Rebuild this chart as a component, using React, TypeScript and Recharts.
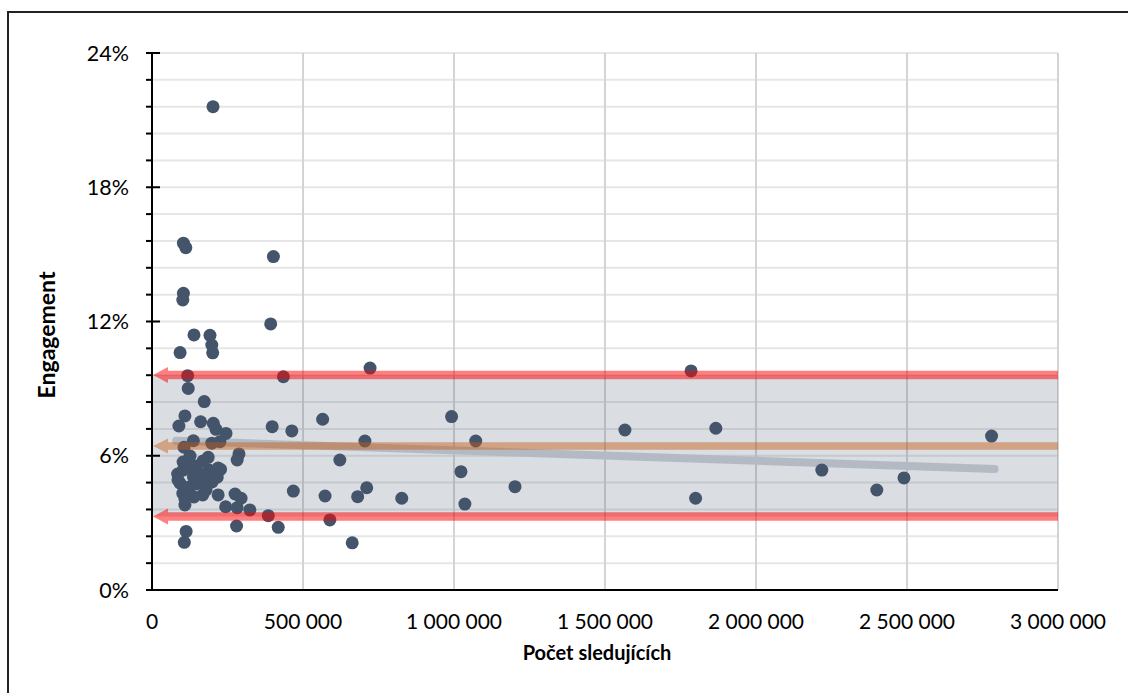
import React from 'react';
import { ScatterChart, Scatter, XAxis, YAxis, CartesianGrid, ReferenceArea, ReferenceLine } from 'recharts';

// followers per profile
const followers = [
    202000, 104000, 112000, 402000, 104000, 102000, 393000, 139000, 192000, 198000,
    201000, 93000, 118000, 435000, 722000, 1785000, 120000, 173000, 109000, 89000,
    161000, 203000, 212000, 245000, 137000, 198000, 225000, 106000, 126000, 186000,
    288000, 282000, 227000, 85000, 137000, 181000, 216000, 93000, 126000, 168000,
    102000, 219000, 109000, 275000, 295000, 244000, 282000, 324000, 385000, 418000,
    280000, 113000, 107000, 468000, 398000, 463000, 565000, 705000, 992000, 1072000,
    622000, 1023000, 711000, 573000, 681000, 827000, 1036000, 589000, 663000, 1566000,
    1867000, 1202000, 1800000, 2780000, 2490000, 2218000, 2400000, 103000, 116000, 146000,
    169000, 152000, 189000, 199000, 146000, 113000, 179000, 139000, 109000, 86000,
    159000, 103000, 219000,
];

// engagement in %
const engagement = [
    21.6, 15.5, 15.3, 14.9, 13.26, 12.96, 11.89, 11.4, 11.38, 10.95,
    10.6, 10.61, 9.58, 9.53, 9.92, 9.79, 9.01, 8.42, 7.78, 7.33,
    7.52, 7.45, 7.18, 7.0, 6.67, 6.56, 6.63, 6.38, 5.99, 5.93,
    6.08, 5.81, 5.39, 5.18, 5.06, 4.99, 5.04, 4.77, 4.62, 4.25,
    4.32, 4.25, 3.8, 4.29, 4.1, 3.72, 3.68, 3.58, 3.32, 2.8,
    2.86, 2.62, 2.13, 4.42, 7.3, 7.11, 7.63, 6.66, 7.75, 6.66,
    5.81, 5.29, 4.57, 4.2, 4.17, 4.1, 3.84, 3.13, 2.11, 7.15,
    7.23, 4.62, 4.1, 6.88, 5.01, 5.36, 4.47, 5.36, 5.54, 5.54,
    5.77, 5.27, 5.36, 4.83, 4.74, 4.56, 4.47, 4.16, 4.07, 4.92,
    4.92, 5.72, 5.45,
];

const xTicks = [0, 500000, 1000000, 1500000, 2000000, 2500000, 3000000];
const yTicks = [0, 1.2, 2.4, 3.6, 4.8, 6, 7.2, 8.4, 9.6, 10.8, 12, 13.2, 14.4, 15.6, 16.8, 18, 19.2, 20.4, 21.6, 22.8, 24];
const yLabels = [0, 6, 12, 18, 24];

// band (range of typical values) and average
const bandLow = 3.28;
const bandHigh = 9.61;
const average = 6.44;

// linear trend
const trendX = [80000, 2790000];
const trendY = [6.67, 5.41];

const points = followers.map((f, i) => ({ x: f, y: engagement[i] }));

const FONT = 'Lato, "Open Sans", sans-serif';

const fmtNum = (v: number) => String(v).replace(/\B(?=(\d{3})+(?!\d))/g, ' ');

const XTick = ({ x, y, payload }: any) => (
    <text x={x} y={y + 39} textAnchor="middle" fontSize={21} fontFamily={FONT} fill="#000">
        {fmtNum(payload.value)}
    </text>
);

const YTick = ({ x, y, payload }: any) => {
    const v = payload.value;
    const major = yLabels.some(m => Math.abs(m - v) < 1e-6);
    return (
        <g>
            <line x1={x - 6} x2={major ? x + 8 : x} y1={y} y2={y} stroke="#000" strokeWidth={2} />
            {major && (
                <text x={x - 23} y={y + 7.5} textAnchor="end" fontSize={21.5} fontFamily={FONT} fill="#000">
                    {Math.round(v)}%
                </text>
            )}
        </g>
    );
};

// horizontal line with an arrow head pointing left
const arrowShape = (color: string, opacity: number, thick: number, head: number) => (props: any) => {
    const { x1, x2, y1 } = props;
    const tip = Math.min(x1, x2) + 1;
    const end = Math.max(x1, x2);
    const back = tip + 15;
    const t = thick / 2;
    const d = `M${tip},${y1} L${back},${y1 - head} L${back},${y1 - t} L${end},${y1 - t} L${end},${y1 + t} L${back},${y1 + t} L${back},${y1 + head} Z`;
    return <path d={d} fill={color} fillOpacity={opacity} />;
};

const Dot = (props: any) => <circle cx={props.cx} cy={props.cy} r={6.5} fill="#44546a" />;

export default function App() {
    return (
        <div style={{ position: 'absolute', left: 0, top: 0, width: 1128, height: 693, overflow: 'hidden', background: '#fff' }}>
            <div style={{ position: 'absolute', left: 7, top: 11, width: 1200, height: 800, borderTop: '2px solid #222', borderLeft: '2px solid #222' }} />
            <div style={{ position: 'absolute', left: 0, top: 0 }}>
                <ScatterChart width={1128} height={693} margin={{ top: 53, right: 70, left: 92, bottom: 63 }}>
                    <CartesianGrid horizontal={true} vertical={false} stroke="#e6e6e6" strokeWidth={2} />
                    <CartesianGrid horizontal={false} vertical={true} stroke="#d4d4d4" strokeWidth={2} />
                    <ReferenceArea x1={0} x2={3000000} y1={bandLow} y2={bandHigh} fill="#44546a" fillOpacity={0.2} stroke="none" zIndex={150} />
                    <ReferenceLine
                        segment={[{ x: trendX[0], y: trendY[0] }, { x: trendX[1], y: trendY[1] }]}
                        stroke="#b4bac4"
                        strokeWidth={8}
                        strokeLinecap="round"
                        zIndex={550}
                    />
                    <XAxis
                        type="number"
                        dataKey="x"
                        domain={[0, 3000000]}
                        ticks={xTicks}
                        interval={0}
                        height={40}
                        tickSize={0}
                        tickMargin={0}
                        tick={<XTick />}
                        axisLine={{ stroke: '#000', strokeWidth: 2 }}
                        tickLine={false}
                    />
                    <YAxis
                        type="number"
                        dataKey="y"
                        domain={[0, 24]}
                        ticks={yTicks}
                        interval={0}
                        width={60}
                        tickSize={0}
                        tickMargin={0}
                        tick={<YTick />}
                        axisLine={{ stroke: '#000', strokeWidth: 2 }}
                        tickLine={false}
                    />
                    <Scatter data={points} shape={<Dot />} isAnimationActive={false} zIndex={600} />
                    <ReferenceLine y={average} shape={arrowShape('#c55a11', 0.45, 7.5, 7.5)} zIndex={700} />
                    <ReferenceLine y={bandHigh} shape={arrowShape('#ff0000', 0.5, 8.5, 8)} zIndex={700} />
                    <ReferenceLine y={bandLow} shape={arrowShape('#ff0000', 0.5, 8.5, 8)} zIndex={700} />
                </ScatterChart>
            </div>
            <div style={{ position: 'absolute', left: 397, top: 642, width: 400, textAlign: 'center', fontFamily: FONT, fontWeight: 700, fontSize: 20, lineHeight: '20px', color: '#000' }}>
                Počet sledujících
            </div>
            <div style={{ position: 'absolute', left: -54, top: 323, width: 200, height: 24, textAlign: 'center', fontFamily: FONT, fontWeight: 700, fontSize: 23, lineHeight: '24px', color: '#000', transform: 'rotate(-90deg)' }}>
                Engagement
            </div>
        </div>
    );
}
